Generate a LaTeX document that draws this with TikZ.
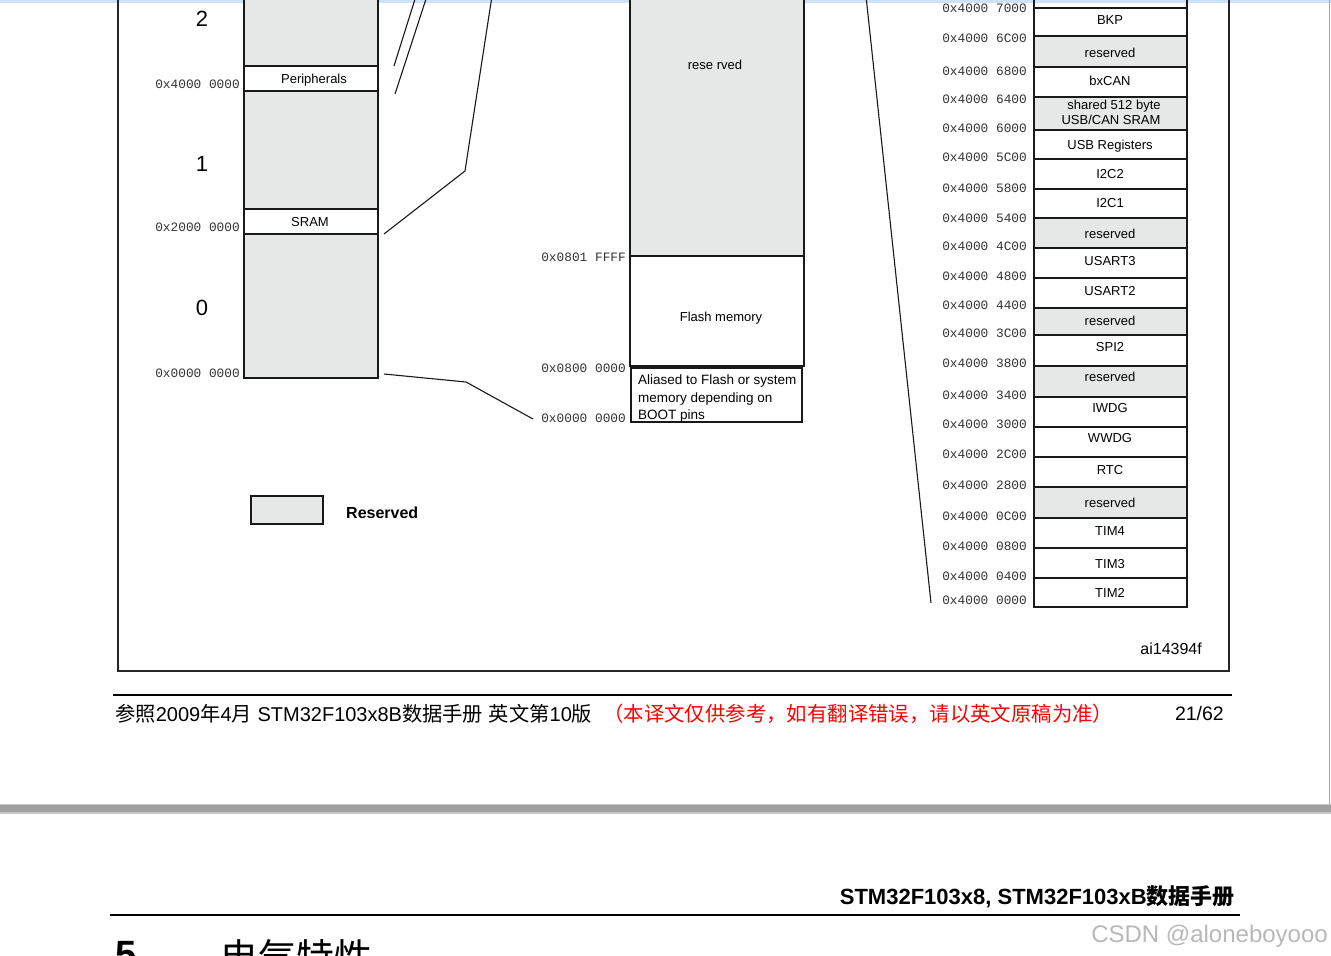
\documentclass[tikz,border=0pt]{standalone}
\usepackage{fontspec}
\setmainfont{Liberation Sans}
\newfontfamily\monof{Liberation Mono}
\newfontfamily\cjk{Noto Sans CJK SC}
\definecolor{resgray}{RGB}{230,231,231}
\definecolor{topblue}{RGB}{205,226,246}
\definecolor{bandgray}{RGB}{160,160,160}
\definecolor{redtxt}{RGB}{255,0,0}
\begin{document}
\begin{tikzpicture}[x=1pt,y=-1pt,
  addr/.style={anchor=east,inner sep=0pt,font=\monof\fontsize{12.8}{14}\selectfont,text=black!80},
  lbl/.style={inner sep=0pt,font=\fontsize{13}{15}\selectfont,text height=.72em,text depth=0pt,yshift=-1.5pt},
  cell/.style={draw=black!90,line width=2.4pt,minimum width=153pt,inner sep=0pt,outer sep=0pt},
  colbox/.style={draw=black!90,line width=2.4pt,minimum width=134pt,inner sep=0pt,outer sep=0pt},
  midbox/.style={draw=black!90,line width=2pt,minimum width=174pt,inner sep=0pt,outer sep=0pt},
  zoomline/.style={line width=1.1pt,black!90},
  bigdigit/.style={inner sep=0pt,font=\fontsize{22}{24}\selectfont,text height=.72em,text depth=0pt}
]
\useasboundingbox (0,0) rectangle (1331,956);
\clip (0,0) rectangle (1331,956);
\fill[white] (0,0) rectangle (1331,956);
\fill[topblue] (0,0) rectangle (1331,2.5);
\draw[black!35,line width=1.2pt] (1329.6,0) -- (1329.6,804);

% ---------- frame ----------
\draw[line width=1.2pt,black!85] (118,-5) -- (118,671) -- (1229,671) -- (1229,-5);

% ---------- left column ----------
\node[colbox,fill=resgray,minimum height=71pt] (reg2) at (311,30.5) {};
\node[colbox,fill=white,minimum height=25pt] (periph) at (311,78.5) {};
\node[colbox,fill=resgray,minimum height=118pt] (reg1) at (311,150) {};
\node[colbox,fill=white,minimum height=25pt] (sram) at (311,221.5) {};
\node[colbox,fill=resgray,minimum height=144pt] (reg0) at (311,306) {};
\node[lbl] (tperiph) at (314,78) {Peripherals};
\node[lbl] (tsram) at (310,221) {SRAM};
\node[bigdigit] (d2) at (202,23) {2};
\node[bigdigit] (d1) at (202,168) {1};
\node[bigdigit] (d0) at (202,312) {0};
\node[addr] (a40) at (240,84) {0x4000 0000};
\node[addr] (a20) at (240,227) {0x2000 0000};
\node[addr] (a00) at (240,373) {0x0000 0000};

% ---------- middle column ----------
\node[midbox,fill=resgray,minimum height=261pt] (mres) at (717,125.5) {};
\node[midbox,fill=white,minimum height=110pt] (flash) at (717,311) {};
\node[draw=black!90,line width=1.5pt,minimum width=171pt,minimum height=54pt,inner sep=0pt,fill=white] (alias) at (716.5,395) {};
\node[lbl] (tmres) at (715,64) {rese rved};
\node[lbl] (tflash) at (721,316) {Flash memory};
\node[lbl,anchor=west,font=\fontsize{13.5}{15}\selectfont] (tal1) at (638,379) {Aliased to Flash or system};
\node[lbl,anchor=west,font=\fontsize{13.5}{15}\selectfont] (tal2) at (638,397) {memory depending on};
\node[lbl,anchor=west,font=\fontsize{13.5}{15}\selectfont] (tal3) at (638,414) {BOOT pins};
\node[addr] (m1) at (626,257) {0x0801 FFFF};
\node[addr] (m2) at (626,368) {0x0800 0000};
\node[addr] (m3) at (626,418) {0x0000 0000};

% ---------- right column ----------
\draw[black!90,line width=2.4pt] (1034,-5) -- (1034,8) (1187,-5) -- (1187,8);
\foreach \t/\b/\f/\ty/\txt [count=\i] in {
  8/36/white/19/BKP, 36/67/resgray/52/reserved, 67/97/white/80/bxCAN,
  97/130/resgray/104/{}, 130/159/white/144/USB Registers, 159/189/white/173/I2C2,
  189/218/white/202/I2C1, 218/248/resgray/233/reserved, 248/278/white/260/USART3,
  278/308/white/290/USART2, 308/335/resgray/320/reserved, 335/366/white/346/SPI2,
  366/397/resgray/376/reserved, 397/427/white/407/IWDG, 427/457/white/437/WWDG,
  457/487/white/469/RTC, 487/518/resgray/502/reserved, 518/548/white/530/TIM4,
  548/578/white/563/TIM3, 578/607/white/592/TIM2}
{
  \node[cell,fill=\f,minimum height={(\b-\t)*1pt}] (r\i) at (1110.5,{(\t+\b)/2}) {};
  \node[lbl] (t\i) at (1110,\ty) {\txt};
}
\node[lbl] (tsh1) at (1114,104) {shared 512 byte};
\node[lbl] (tsh2) at (1111,119) {USB/CAN SRAM};
\foreach \y/\a [count=\j] in {8/7000,38/6C00,71/6800,99/6400,128/6000,157/5C00,
  188/5800,218/5400,246/4C00,276/4800,305/4400,333/3C00,363/3800,395/3400,
  424/3000,454/2C00,485/2800,516/0C00,546/0800,576/0400,600/0000}
{
  \node[addr] (ra\j) at (1027,\y) {0x4000 \a};
}

% ---------- connectors ----------
\coordinate (p1a) at (394,66);  \coordinate (p1b) at (416,-4);
\coordinate (p2a) at (395,94);  \coordinate (p2b) at (427,-4);
\coordinate (p3a) at (384,234); \coordinate (p3k) at (465,171); \coordinate (p3b) at (492,-4);
\coordinate (p4a) at (384,374); \coordinate (p4k) at (466,382); \coordinate (p4b) at (533,419);
\coordinate (p5a) at (866,-4);  \coordinate (p5b) at (931,603);
\draw[zoomline] (p1a) -- (p1b);
\draw[zoomline] (p2a) -- (p2b);
\draw[zoomline] (p3a) -- (p3k) -- (p3b);
\draw[zoomline] (p4a) -- (p4k) -- (p4b);
\draw[zoomline] (p5a) -- (p5b);

% ---------- legend ----------
\node[draw=black!90,line width=2pt,fill=resgray,minimum width=72pt,minimum height=28pt,inner sep=0pt] (legbox) at (287,510) {};
\node[anchor=west,inner sep=0pt,font=\bfseries\fontsize{16}{18}\selectfont] (legtxt) at (346,513) {Reserved};
\node[anchor=east,inner sep=0pt,font=\fontsize{16}{18}\selectfont] (fig) at (1202,649) {ai14394f};

% ---------- page footer ----------
\draw[line width=2pt] (113,695) -- (1232,695);
\node[anchor=west,inner sep=0pt,font=\fontsize{20}{22}\selectfont] (foot1) at (115,714)
  {{\cjk\fontsize{20.3}{22}\selectfont 参照}2009{\cjk\fontsize{20.3}{22}\selectfont 年}4{\cjk\fontsize{20.3}{22}\selectfont 月} STM32F103x8B{\cjk\fontsize{20.3}{22}\selectfont 数据手册} {\cjk\fontsize{20.3}{22}\selectfont 英文第}10{\cjk\fontsize{20.3}{22}\selectfont 版}};
\node[anchor=west,inner sep=0pt,text=redtxt,font=\cjk\fontsize{20.4}{22}\selectfont] (foot2) at (603,714)
  {（本译文仅供参考，如有翻译错误，请以英文原稿为准）};
\node[anchor=east,inner sep=0pt,font=\fontsize{19.5}{22}\selectfont] (page) at (1224,714) {21/62};

% ---------- page break band ----------
\fill[black!22] (0,803.5) rectangle (1331,813.5);
\fill[bandgray] (0,805) rectangle (1331,812);

% ---------- next page header ----------
\node[anchor=east,inner sep=0pt,font=\bfseries\fontsize{22}{24}\selectfont] (hdr) at (1235,897)
  {STM32F103x8, STM32F103xB{\cjk\bfseries 数据手册}};
\draw[line width=2pt] (110,914.5) -- (1240,914.5);
\node[anchor=base west,inner sep=0pt,font=\bfseries\fontsize{38}{40}\selectfont] (secnum) at (115,967) {5};
\node[anchor=base west,inner sep=0pt,font=\cjk\fontsize{38}{40}\selectfont] (sectitle) at (220,971) {电气特性};
\node[anchor=east,inner sep=0pt,text=black!28,font=\fontsize{24}{26}\selectfont] (wm) at (1328,936) {CSDN @aloneboyooo};
\end{tikzpicture}
\end{document}
